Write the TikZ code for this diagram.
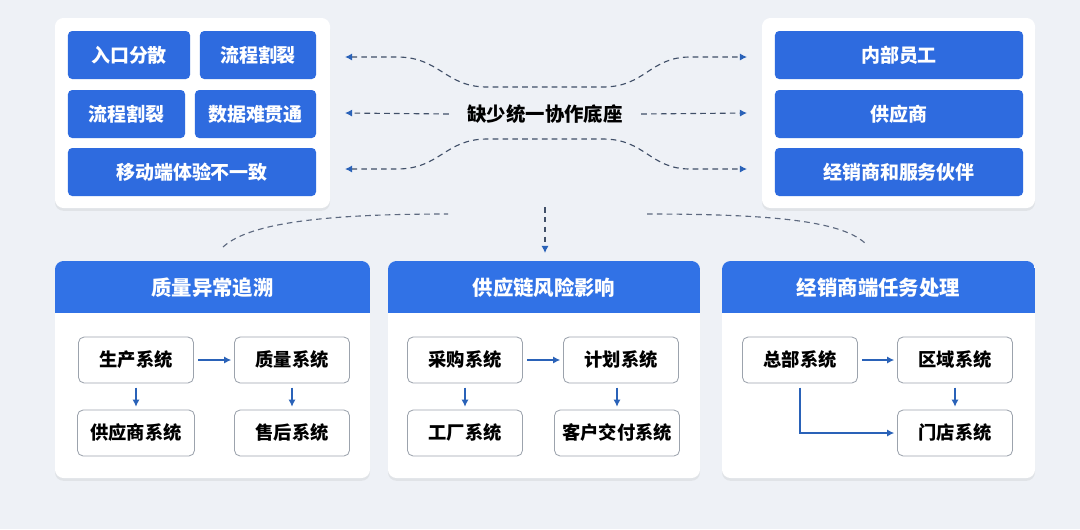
\documentclass[tikz,border=0pt]{standalone}
\usepackage{fontspec}
\newfontfamily\cjk{Noto Sans CJK SC}
\usetikzlibrary{arrows.meta,shadows}

\definecolor{bgcol}{HTML}{EEF1F6}
\definecolor{btnblue}{HTML}{2E6BDF}
\definecolor{hdrblue}{HTML}{3172E6}
\definecolor{linecol}{HTML}{404F68}
\definecolor{tipblue}{HTML}{2A62B8}
\definecolor{boxline}{HTML}{9CA3AD}

\tikzset{btip/.tip={Latex[length=5pt, width=5pt, color=tipblue]}}

\begin{document}
\begin{tikzpicture}[
  x=0.025cm, y=-0.025cm,
  every node/.style={inner sep=1pt, font=\cjk\bfseries},
  panel/.style={fill=white, rounded corners=6pt, drop shadow={opacity=0.12, shadow xshift=0pt, shadow yshift=-2pt}},
  btn/.style={rectangle, rounded corners=3pt, fill=btnblue, text=white, minimum height=1.2cm, font=\cjk\bfseries\fontsize{13.5}{15}\selectfont},
  title/.style={text=white, font=\cjk\bfseries\fontsize{14.5}{16}\selectfont},
  sysbox/.style={rectangle, rounded corners=4pt, draw=boxline, fill=white, line width=0.6pt, minimum width=2.875cm, minimum height=1.15cm, font=\cjk\bfseries\fontsize{13}{15}\selectfont},
  arrow/.style={draw=tipblue, line width=1pt, shorten <=3pt, shorten >=2pt, -{Latex[length=5pt, width=5pt]}},
  darrow/.style={draw=linecol, line width=0.8pt, dash pattern=on 4pt off 3pt, -btip},
  dline/.style={draw=linecol!85, line width=0.8pt, dash pattern=on 4pt off 3pt}]

  % background
  \fill[bgcol] (0,0) rectangle (1080,529);

  % top panels
  \fill[panel] (55,18) rectangle (330,208);
  \fill[panel] (762,18) rectangle (1035,208);

  \node[btn, minimum width=3.05cm]  (rukou)   at (129,55)  {入口分散};
  \node[btn, minimum width=2.9cm]   (liucA)   at (258,55)  {流程割裂};
  \node[btn, minimum width=2.925cm] (liucB)   at (126.5,114) {流程割裂};
  \node[btn, minimum width=3.025cm] (shuju)   at (255.5,114) {数据难贯通};
  \node[btn, minimum width=6.2cm]   (yidong)  at (192,172) {移动端体验不一致};

  \node[btn, minimum width=6.2cm] (neibu)  at (899,55)  {内部员工};
  \node[btn, minimum width=6.2cm] (gongy)  at (899,114) {供应商};
  \node[btn, minimum width=6.2cm] (jingx)  at (899,172) {经销商和服务伙伴};

  \node[font=\cjk\bfseries\fontsize{13.8}{16}\selectfont] (dizuo) at (545,114) {缺少统一协作底座};

  \coordinate (Lt) at (345,57);  \coordinate (Rt) at (747,57);
  \coordinate (Lm) at (345,113); \coordinate (Rm) at (747,113);
  \coordinate (Lb) at (345,169); \coordinate (Rb) at (747,169);

  \draw[darrow, btip-btip]
    (Lt) -- (397,57) .. controls (440,57) and (445,87) .. (487,87) -- (603,87)
    .. controls (645,87) and (650,57) .. (690,57) -- (Rt);
  \draw[darrow, btip-btip]
    (Lb) -- (397,169) .. controls (440,169) and (445,139) .. (487,139) -- (603,139)
    .. controls (645,139) and (650,169) .. (690,169) -- (Rb);
  \draw[darrow] ([xshift=-12pt]dizuo.west) -- (Lm);
  \draw[darrow] ([xshift=12pt]dizuo.east) -- (Rm);

  % bottom panels
  \foreach \xa/\xb in {55/370, 388/700, 722/1035} {
    \fill[panel] (\xa,261) rectangle (\xb,478);
    \begin{scope}
      \clip[rounded corners=6pt] (\xa,261) rectangle (\xb,478);
      \fill[hdrblue] (\xa,261) rectangle (\xb,313);
    \end{scope}
  }

  \node[title] (zhiliang) at (212.5,288) {质量异常追溯};
  \node[title] (gongying) at (544,288)   {供应链风险影响};
  \node[title] (jingxiao) at (878.5,288) {经销商端任务处理};

  % links from the top
  \coordinate (cl) at (223,247);
  \coordinate (cr) at (867,245);
  \coordinate (cm) at (545,207);
  \draw[dline] (cl) .. controls (250,222) and (330,214) .. (448,214);
  \draw[dline] (647,214) .. controls (780,214) and (845,222) .. (cr);
  \draw[darrow] (cm) -- (545,253);

  % quality
  \node[sysbox] (shengchan) at (136,360) {生产系统};
  \node[sysbox] (zhiliangS) at (292,360) {质量系统};
  \node[sysbox, minimum width=2.925cm] (gongyingS) at (136,433) {供应商系统};
  \node[sysbox] (shouhou)   at (292,433) {售后系统};
  \draw[arrow] (shengchan) -- (zhiliangS);
  \draw[arrow] (shengchan) -- (gongyingS);
  \draw[arrow] (zhiliangS) -- (shouhou);

  % supply chain
  \node[sysbox] (caigou)  at (465,360) {采购系统};
  \node[sysbox] (jihua)   at (621,360) {计划系统};
  \node[sysbox] (gongc)   at (465,433) {工厂系统};
  \node[sysbox, minimum width=3.125cm] (kehu) at (617,433) {客户交付系统};
  \draw[arrow] (caigou) -- (jihua);
  \draw[arrow] (caigou) -- (gongc);
  \draw[arrow] (jihua.south -| kehu) -- (kehu);

  % dealer
  \node[sysbox] (zongbu)  at (800,360) {总部系统};
  \node[sysbox] (quyu)    at (955,360) {区域系统};
  \node[sysbox] (mendian) at (955,433) {门店系统};
  \draw[arrow] (zongbu) -- (quyu);
  \draw[arrow] (quyu) -- (mendian);
  \draw[arrow] (zongbu.south) |- (mendian.west);

\end{tikzpicture}
\end{document}
